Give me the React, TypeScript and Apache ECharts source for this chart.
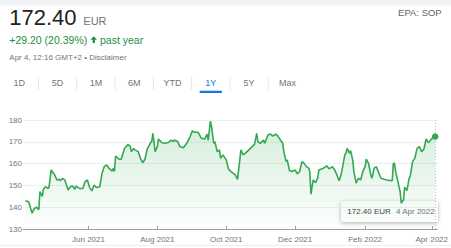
import React, { useEffect, useRef } from "react";
import * as echarts from "echarts";

const dates = [
  "2021-04-06","2021-04-09","2021-04-12","2021-04-14","2021-04-16","2021-04-18","2021-04-19","2021-04-21","2021-04-22","2021-04-24",
  "2021-04-26","2021-04-27","2021-04-29","2021-05-01","2021-05-02","2021-05-04","2021-05-06","2021-05-07","2021-05-09","2021-05-11",
  "2021-05-14","2021-05-16","2021-05-18","2021-05-20","2021-05-21","2021-05-24","2021-05-27","2021-05-29","2021-05-31","2021-06-02",
  "2021-06-04","2021-06-06","2021-06-08","2021-06-11","2021-06-13","2021-06-15","2021-06-17","2021-06-19","2021-06-22","2021-06-23",
  "2021-06-24","2021-06-25","2021-06-28","2021-06-30","2021-07-03","2021-07-06","2021-07-08","2021-07-09","2021-07-11","2021-07-12",
  "2021-07-15","2021-07-17","2021-07-19","2021-07-21","2021-07-23","2021-07-26","2021-07-27","2021-07-28","2021-07-29","2021-07-30",
  "2021-08-01","2021-08-02","2021-08-05","2021-08-08","2021-08-11","2021-08-13","2021-08-15","2021-08-16","2021-08-19","2021-08-21",
  "2021-08-24","2021-08-27","2021-08-30","2021-09-01","2021-09-03","2021-09-06","2021-09-09","2021-09-12","2021-09-14","2021-09-15",
  "2021-09-17","2021-09-18","2021-09-20","2021-09-21","2021-09-23","2021-09-25","2021-09-26",
  "2021-09-28","2021-10-01","2021-10-03","2021-10-05","2021-10-07","2021-10-09","2021-10-11","2021-10-14","2021-10-16","2021-10-18",
  "2021-10-21","2021-10-24","2021-10-26","2021-10-28","2021-10-29","2021-10-31","2021-11-03","2021-11-04","2021-11-07","2021-11-09",
  "2021-11-11","2021-11-14","2021-11-16","2021-11-18","2021-11-20","2021-11-21","2021-11-23","2021-11-24","2021-11-26","2021-11-28",
  "2021-12-01","2021-12-03","2021-12-05","2021-12-07","2021-12-09","2021-12-11","2021-12-13","2021-12-14","2021-12-15","2021-12-17",
  "2021-12-19","2021-12-21","2021-12-22","2021-12-25","2021-12-27","2021-12-29","2021-12-31","2022-01-03","2022-01-05","2022-01-07",
  "2022-01-09","2022-01-11","2022-01-14","2022-01-15","2022-01-16","2022-01-18","2022-01-19","2022-01-21","2022-01-22","2022-01-24",
  "2022-01-26","2022-01-28","2022-01-30","2022-02-01","2022-02-02","2022-02-04","2022-02-06","2022-02-07","2022-02-09","2022-02-11",
  "2022-02-12","2022-02-15","2022-02-18","2022-02-20","2022-02-25","2022-02-26","2022-02-27","2022-02-28","2022-03-02","2022-03-04",
  "2022-03-05","2022-03-07","2022-03-08","2022-03-10","2022-03-12","2022-03-13","2022-03-15","2022-03-17","2022-03-19","2022-03-21",
  "2022-03-23","2022-03-25","2022-03-27","2022-03-29","2022-03-31","2022-04-02","2022-04-04"
];

const prices = [
  143, 142.5, 137.3, 139.3, 140, 138.8, 147.2, 144.9, 148.2, 149.4,
  148.6, 149, 157.1, 155.6, 154.8, 152.5, 152.8, 152.1, 153.2, 152.5,
  147.9, 149.4, 149.7, 148.2, 149.7, 148.6, 148.6, 151.7, 152.5, 149,
  147.5, 150.2, 149, 149.4, 155.6, 158.7, 159.4, 157.9, 156.6, 157.9,
  156.4, 163.5, 162, 162, 167, 168.8, 167.8, 165.5, 167, 166.3,
  165.5, 162.4, 160.4, 162, 166.6, 169.6, 170.1, 173.9, 170, 165.5,
  167.8, 171.3, 169.6, 169.3, 169.8, 170.8, 170.1, 170.8, 170.1, 167.8,
  167.3, 169.3, 172.4, 175, 174.4, 174.4, 171.6, 171.3, 173.5, 170.8,
  179.5, 177, 169.3, 170, 165.5, 166.3, 162.4,
  164, 161.7, 157.4, 156.4, 155.6, 154.8, 152.8, 166.3, 164, 164.8,
  166.3, 167.8, 168.8, 173.9, 170.1, 169.3, 170.8, 169.3, 173.1, 173.6,
  172.7, 173.5, 172.4, 170.8, 169.3, 165.5, 160.9, 161.7, 156.8, 156.4,
  157.1, 155.3, 156.4, 160.9, 160.1, 158.6, 157.9, 156.4, 146, 152.5,
  151.3, 153.3, 157.1, 157.6, 158.2, 159, 157.6, 158.6, 157.1, 154.8,
  152.1, 155.6, 164, 164.8, 167, 164.8, 166, 161.7, 156.4, 151,
  153.3, 152.5, 156.4, 158.6, 162, 160.1, 154.8, 153.3, 157.9, 158.6,
  157.1, 153.3, 152.8, 152.5, 152.1, 160.1, 160.1, 156.4, 151.7, 147.1,
  141.9, 143.4, 149.2, 147.6, 153.3, 154.4, 160.9, 162.4, 167, 167.8,
  165.5, 166.6, 171.3, 169.6, 170.8, 172, 172.4
];

const tickDates = ["2021-06-01", "2021-08-01", "2021-10-01", "2021-12-01", "2022-02-01", "2022-04-01"];
const monthNames = ["Jan", "Feb", "Mar", "Apr", "May", "Jun", "Jul", "Aug", "Sep", "Oct", "Nov", "Dec"];
const axisStart = "2021-04-04";
const axisEnd = "2022-04-06";
const yMin = 130;
const yMax = 180;
const yStep = 10;

const tabs = ["1D", "5D", "1M", "6M", "YTD", "1Y", "5Y", "Max"];
const activeTab = "1Y";
const priceText = "172.40";
const currency = "EUR";
const changeText = "+29.20 (20.39%)";
const periodText = "past year";
const stampText = "Apr 4, 12:16 GMT+2 • Disclaimer";
const tickerText = "EPA: SOP";
const tipPrice = "172.40 EUR";
const tipDate = "4 Apr 2022";

const FONT = "Arial, 'Liberation Sans', sans-serif";
const GREEN_LINE = "#34a853";
const GREEN_TEXT = "#1e8e3e";
const GRAY = "#70757a";

export default function App() {
  const ref = useRef<HTMLDivElement>(null);

  useEffect(() => {
    if (!ref.current) return;
    echarts.graphic.registerShape(
      "uparrow",
      echarts.graphic.extendPath("M12 4L19.5 12H14.6V20H9.4V12H4.5Z", {})
    );
    const chart = echarts.init(ref.current, null, { renderer: "svg" });
    const ts = dates.map((d) => new Date(d).getTime());
    const data = ts.map((t, i) => [t, prices[i]]);
    const lastT = ts[ts.length - 1];
    const lastV = prices[prices.length - 1];
    const tickTs = tickDates.map((d) => new Date(d).getTime());

    const tabCenter0 = 19.3;
    const tabStep = 38.3;
    const tabEls: any[] = [];
    tabs.forEach((t, i) => {
      tabEls.push({
        type: "text",
        x: tabCenter0 + i * tabStep,
        y: 82.5,
        style: {
          text: t,
          fill: t === activeTab ? "#1a73e8" : GRAY,
          font: `9px ${FONT}`,
          align: "center",
          verticalAlign: "middle",
        },
      });
      if (i < tabs.length - 1) {
        tabEls.push({
          type: "line",
          shape: {
            x1: tabCenter0 + (i + 0.5) * tabStep,
            y1: 77.5,
            x2: tabCenter0 + (i + 0.5) * tabStep,
            y2: 90,
          },
          style: { stroke: "#e3e5e8", lineWidth: 1 },
        });
      }
      if (t === activeTab) {
        tabEls.push({
          type: "rect",
          shape: { x: tabCenter0 + i * tabStep - 11.3, y: 90.8, width: 22.6, height: 2.2, r: 1.1 },
          style: { fill: "#1a73e8" },
        });
      }
    });

    chart.setOption({
      animation: false,
      textStyle: { fontFamily: FONT },
      grid: { left: 23, right: 11, top: 120, bottom: 19 },
      xAxis: {
        type: "value",
        min: new Date(axisStart).getTime(),
        max: new Date(axisEnd).getTime(),
        axisLine: { show: true, lineStyle: { color: "#9aa0a6", width: 1 } },
        axisTick: {
          show: true,
          inside: true,
          length: 3,
          lineStyle: { color: "#9aa0a6" },
          customValues: tickTs,
        },
        axisLabel: {
          color: GRAY,
          fontSize: 8,
          fontFamily: FONT,
          margin: 6,
          customValues: tickTs,
          formatter: (v: number) => {
            const d = new Date(v);
            return `${monthNames[d.getUTCMonth()]} ${d.getUTCFullYear()}`;
          },
        },
        splitLine: { show: false },
      },
      yAxis: {
        type: "value",
        min: yMin,
        max: yMax,
        interval: yStep,
        axisLine: { show: false },
        axisTick: { show: false },
        axisLabel: { color: GRAY, fontSize: 8, fontFamily: FONT, margin: 1 },
        splitLine: { lineStyle: { color: "#eeeeee", width: 1 } },
      },
      series: [
        {
          type: "line",
          data,
          showSymbol: false,
          lineStyle: { color: GREEN_LINE, width: 1.6 },
          itemStyle: { color: GREEN_LINE },
          areaStyle: {
            color: new echarts.graphic.LinearGradient(0, 0, 0, 1, [
              { offset: 0, color: "rgba(52,168,83,0.3)" },
              { offset: 1, color: "rgba(52,168,83,0.01)" },
            ]),
          },
          markLine: {
            silent: true,
            symbol: "none",
            label: { show: false },
            lineStyle: { color: "#bdc1c6", type: [1, 2], width: 1 },
            data: [{ xAxis: lastT }],
          },
          markPoint: {
            silent: true,
            symbol: "circle",
            symbolSize: 6.5,
            itemStyle: { color: GREEN_LINE },
            label: { show: false },
            data: [{ coord: [lastT, lastV] }],
          },
        },
      ],
      graphic: [
        { type: "rect", shape: { x: 0, y: 0, width: 451, height: 5.5 }, style: { fill: "#f1f3f4" } },
        { type: "line", shape: { x1: 0, y1: 245.5, x2: 451, y2: 245.5 }, style: { stroke: "#eeeeee", lineWidth: 1 } },
        {
          type: "text",
          x: 9.3,
          y: 17.6,
          style: { text: priceText, fill: "#202124", font: `22px ${FONT}`, verticalAlign: "middle" },
        },
        {
          type: "text",
          x: 83.3,
          y: 20.5,
          style: { text: currency, fill: GRAY, font: `11px ${FONT}`, verticalAlign: "middle" },
        },
        {
          type: "text",
          x: 9.3,
          y: 39.6,
          style: { text: changeText, fill: GREEN_TEXT, font: `10.5px ${FONT}`, verticalAlign: "middle" },
        },
        {
          type: "uparrow",
          x: 88.6,
          y: 34.5,
          scaleX: 0.43,
          scaleY: 0.43,
          style: { fill: GREEN_TEXT },
        },
        {
          type: "text",
          x: 100,
          y: 39.6,
          style: { text: periodText, fill: GREEN_TEXT, font: `10.5px ${FONT}`, verticalAlign: "middle" },
        },
        {
          type: "text",
          x: 9.3,
          y: 57.9,
          style: { text: stampText, fill: GRAY, font: `8px ${FONT}`, verticalAlign: "middle" },
        },
        {
          type: "text",
          x: 441.7,
          y: 12.4,
          style: { text: tickerText, fill: "#5f6368", font: `9.5px ${FONT}`, align: "right", verticalAlign: "middle" },
        },
        ...tabEls,
        {
          type: "group",
          x: 341,
          y: 201,
          children: [
            {
              type: "rect",
              shape: { x: 0, y: 0, width: 97, height: 21, r: 2 },
              style: {
                fill: "#ffffff",
                shadowBlur: 4,
                shadowOffsetY: 1,
                shadowColor: "rgba(0,0,0,0.3)",
              },
            },
            {
              type: "text",
              x: 6.3,
              y: 10.6,
              style: { text: tipPrice, fill: "#3c4043", font: `8px ${FONT}`, verticalAlign: "middle" },
            },
            {
              type: "text",
              x: 55,
              y: 10.6,
              style: { text: tipDate, fill: GRAY, font: `8px ${FONT}`, verticalAlign: "middle" },
            },
          ],
        },
      ],
    });
    return () => chart.dispose();
  }, []);

  return (
    <div
      ref={ref}
      style={{ position: "fixed", left: 0, top: 0, width: 451, height: 248, background: "#ffffff" }}
    />
  );
}
